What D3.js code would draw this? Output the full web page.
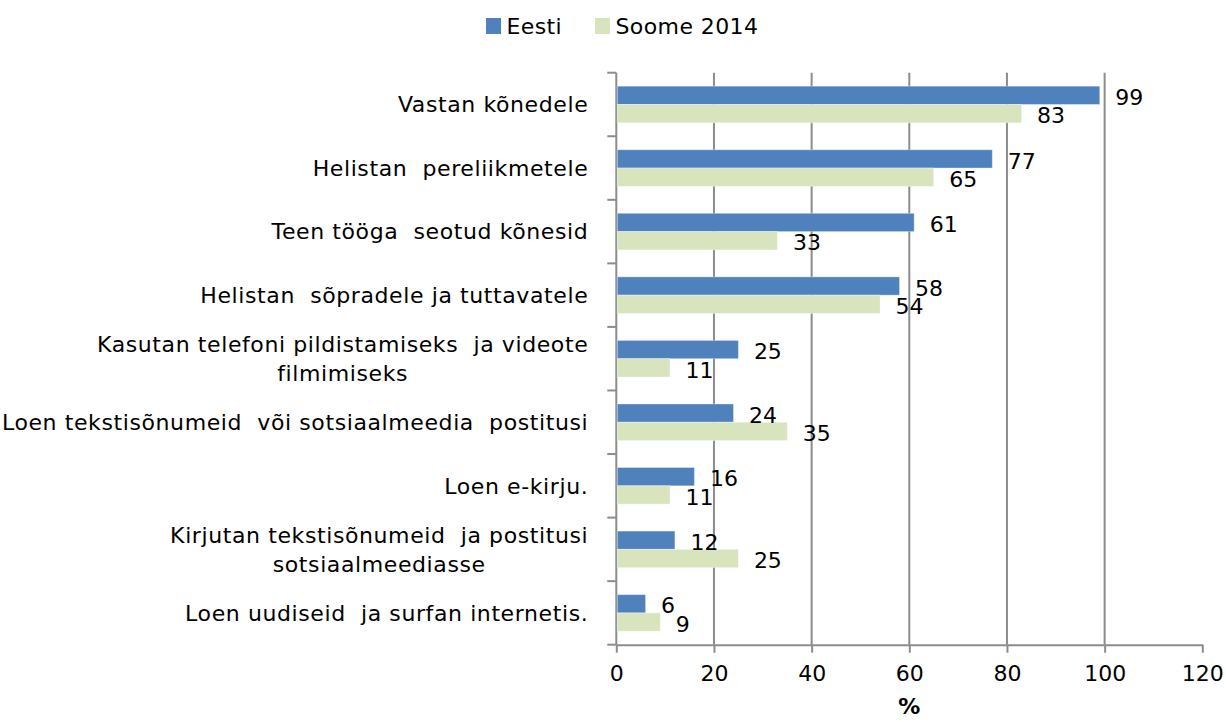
<!DOCTYPE html>
<html>
<head>
<meta charset="utf-8">
<script src="https://cdn.jsdelivr.net/npm/d3@7"></script>
<style>
  body { margin: 0; background: #fff; }
  text { font-family: "DejaVu Sans", Verdana, sans-serif; fill: #000; }
</style>
</head>
<body>
<div id="chart"></div>
<script>
// andmed
const categories = [
  'Vastan kõnedele',
  'Helistan  pereliikmetele',
  'Teen tööga  seotud kõnesid',
  'Helistan  sõpradele ja tuttavatele',
  'Kasutan telefoni pildistamiseks  ja videote|filmimiseks',
  'Loen tekstisõnumeid  või sotsiaalmeedia  postitusi',
  'Loen e-kirju.',
  'Kirjutan tekstisõnumeid  ja postitusi|sotsiaalmeediasse',
  'Loen uudiseid  ja surfan internetis.'
];
const seriesNames = ['Eesti', 'Soome 2014'];
const eesti = [99, 77, 61, 58, 25, 24, 16, 12, 6];
const soome = [83, 65, 33, 54, 11, 35, 11, 25, 9];
const xTicks = [0, 20, 40, 60, 80, 100, 120];
const colors = ['#4F81BD', '#D7E4BD'];

const width = 1226, height = 722;
const plot = { left: 616.3, right: 1202.3, top: 72.7, bottom: 644.7 };
const gridColor = '#8c8c8c';
const fontSize = 22;

const svg = d3.select('#chart').append('svg')
  .attr('width', width)
  .attr('height', height);

const x = d3.scaleLinear().domain([0, 120]).range([plot.left, plot.right]);
const y0 = d3.scaleBand().domain(d3.range(categories.length)).range([plot.top, plot.bottom]).padding(0);
const y1 = d3.scaleBand().domain(seriesNames).range([0, y0.bandwidth()]).paddingInner(0).paddingOuter(0.737);

// ruudustik
svg.append('g').selectAll('line')
  .data(xTicks.filter(t => t > 0 && t < 120))
  .enter().append('line')
  .attr('x1', d => x(d)).attr('x2', d => x(d))
  .attr('y1', plot.top).attr('y2', plot.bottom)
  .attr('stroke', gridColor).attr('stroke-width', 2);

// teljed
const xAxis = svg.append('g')
  .attr('transform', `translate(0,${plot.bottom})`)
  .call(d3.axisBottom(x).tickValues(xTicks).tickSize(8).tickPadding(13).tickSizeOuter(0));
xAxis.select('.domain').attr('stroke', gridColor).attr('stroke-width', 2);
xAxis.selectAll('.tick line').attr('stroke', gridColor).attr('stroke-width', 2);
xAxis.selectAll('.tick text').attr('font-size', fontSize).attr('font-family', '"DejaVu Sans", Verdana, sans-serif').attr('fill', '#000');

const yTicks = d3.range(categories.length + 1).map(i => plot.top + i * y0.step());
svg.append('line')
  .attr('x1', plot.left).attr('x2', plot.left)
  .attr('y1', plot.top).attr('y2', plot.bottom)
  .attr('stroke', gridColor).attr('stroke-width', 2);
svg.append('g').selectAll('line')
  .data(yTicks).enter().append('line')
  .attr('x1', plot.left - 9).attr('x2', plot.left)
  .attr('y1', d => d).attr('y2', d => d)
  .attr('stroke', gridColor).attr('stroke-width', 2);

// tulbad
const data = categories.map((c, i) => ({ i, values: [eesti[i], soome[i]] }));
const groups = svg.append('g').selectAll('g')
  .data(data).enter().append('g')
  .attr('transform', d => `translate(0,${y0(d.i)})`);

groups.selectAll('rect')
  .data(d => d.values.map((v, k) => ({ v, k })))
  .enter().append('rect')
  .attr('x', x(0) + 1)
  .attr('y', d => y1(seriesNames[d.k]))
  .attr('width', d => x(d.v) - x(0) - 1)
  .attr('height', y1.bandwidth())
  .attr('fill', d => colors[d.k])
  .attr('stroke', 'rgba(255,255,255,0.35)')
  .attr('stroke-width', 1);

groups.selectAll('text.val')
  .data(d => d.values.map((v, k) => ({ v, k })))
  .enter().append('text')
  .attr('class', 'val')
  .attr('x', d => x(d.v) + 15.5)
  .attr('y', d => y1(seriesNames[d.k]) + y1.bandwidth() / 2 + 2)
  .attr('dy', '0.35em')
  .attr('font-size', fontSize)
  .text(d => d.v);

// kategooriate nimed
const labelRight = plot.left - 28;
categories.forEach((c, i) => {
  const lines = c.split('|');
  const cy = y0(i) + y0.bandwidth() / 2;
  const lh = 29;
  const g = svg.append('g');
  const t0 = g.append('text')
    .attr('font-size', fontSize)
    .attr('letter-spacing', 0.6)
    .attr('xml:space', 'preserve')
    .attr('text-anchor', 'end')
    .attr('x', labelRight)
    .attr('y', cy - (lines.length - 1) * lh / 2)
    .attr('dy', '0.35em')
    .text(lines[0]);
  if (lines.length > 1) {
    const w = t0.node().getComputedTextLength();
    lines.slice(1).forEach((ln, j) => {
      g.append('text')
        .attr('font-size', fontSize)
        .attr('letter-spacing', 0.6)
        .attr('xml:space', 'preserve')
        .attr('text-anchor', 'middle')
        .attr('x', labelRight - w / 2)
        .attr('y', cy - (lines.length - 1) * lh / 2 + (j + 1) * lh)
        .attr('dy', '0.35em')
        .text(ln);
    });
  }
});

// telje pealkiri
svg.append('text')
  .attr('x', (plot.left + plot.right) / 2)
  .attr('y', 714)
  .attr('text-anchor', 'middle')
  .attr('font-size', fontSize)
  .attr('font-weight', 'bold')
  .text('%');

// legend
const legendX = [486, 595];
const legend = svg.append('g').selectAll('g')
  .data(seriesNames).enter().append('g')
  .attr('transform', (d, i) => `translate(${legendX[i]},18)`);
legend.append('rect')
  .attr('width', 15).attr('height', 16)
  .attr('fill', (d, i) => colors[i]);
legend.append('text')
  .attr('x', 20.5).attr('y', 8).attr('dy', '0.35em')
  .attr('font-size', fontSize)
  .attr('letter-spacing', 0.4)
  .text(d => d);
</script>
</body>
</html>
